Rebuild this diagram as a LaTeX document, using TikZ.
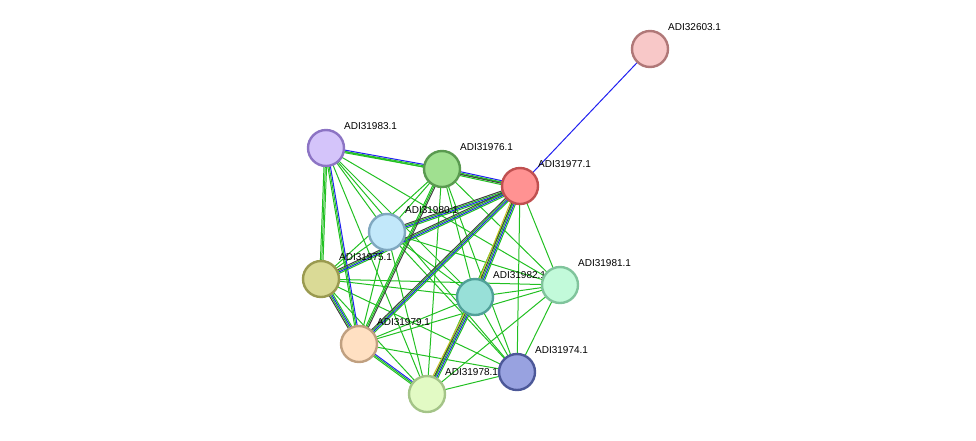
\documentclass[tikz,border=0pt]{standalone}
\usepackage{fontspec}
\setmainfont{Liberation Sans}
\usetikzlibrary{calc}
\definecolor{eg}{HTML}{22C022}
\definecolor{eb}{HTML}{2020F0}
\definecolor{ek}{HTML}{404040}
\definecolor{ey}{HTML}{C0C020}
\tikzset{
 prot/.style n args={2}{circle,minimum size=36pt,inner sep=0pt,line width=2.4pt,fill=#1,draw=#2},
 lab/.style={anchor=west,font=\fontsize{10}{11}\selectfont,inner sep=0pt},
 ed/.style={line width=1pt}
}
\newcommand{\pedge}[4]{% a b offset color
 \draw[ed,#4] ($(#1.center)!#3!90:(#2.center)$) -- ($(#2.center)!#3!-90:(#1.center)$);}
\begin{document}
\begin{tikzpicture}[x=1pt,y=-1pt]
\useasboundingbox (0,0) rectangle (976,440);
\coordinate (p32603) at (650,49);
\coordinate (p31983) at (326,148);
\coordinate (p31976) at (442,169);
\coordinate (p31977) at (520,186);
\coordinate (p31980) at (387,232);
\coordinate (p31975) at (321,279);
\coordinate (p31982) at (475,297);
\coordinate (p31981) at (560,285);
\coordinate (p31979) at (359,344);
\coordinate (p31974) at (517,372);
\coordinate (p31978) at (427,394);
\foreach \n in {32603,31983,31976,31977,31980,31975,31982,31981,31979,31974,31978}
  \node[circle,minimum size=36pt,inner sep=0pt] (n\n) at (p\n) {};
\foreach \a/\b in {31983/31976,31983/31977,31983/31980,31983/31975,31983/31982,31983/31981,31983/31979,31983/31974,31983/31978,
 31976/31977,31976/31980,31976/31975,31976/31982,31976/31981,31976/31979,31976/31974,31976/31978,
 31977/31980,31977/31975,31977/31982,31977/31981,31977/31979,31977/31974,31977/31978,
 31980/31975,31980/31982,31980/31981,31980/31979,31980/31974,31980/31978,
 31975/31982,31975/31981,31975/31979,31975/31974,31975/31978,
 31982/31981,31982/31979,31982/31974,31982/31978,
 31981/31979,31981/31974,31981/31978,
 31979/31974,31979/31978,31974/31978}
 \draw[ed,eg] (n\a.center) -- (n\b.center);
\pedge{n31983}{n31976}{1.3pt}{eb}\pedge{n31983}{n31976}{-1.3pt}{eg}
\pedge{n31976}{n31977}{1.3pt}{eb}\pedge{n31976}{n31977}{-1.3pt}{ek}\pedge{n31976}{n31977}{-2.6pt}{eg}
\pedge{n31983}{n31975}{1.3pt}{eg}\pedge{n31983}{n31975}{-1.3pt}{eg}
\pedge{n31983}{n31979}{1.3pt}{eb}\pedge{n31983}{n31979}{-1.3pt}{eg}
\pedge{n31977}{n31980}{1.3pt}{eb}\pedge{n31977}{n31980}{-1.3pt}{ek}\pedge{n31977}{n31980}{2.6pt}{eg}
\pedge{n31977}{n31975}{1.3pt}{eb}\pedge{n31977}{n31975}{-1.3pt}{ek}\pedge{n31977}{n31975}{2.6pt}{eg}
\pedge{n31977}{n31979}{1.3pt}{eb}\pedge{n31977}{n31979}{-1.3pt}{ek}\pedge{n31977}{n31979}{2.6pt}{eg}
\pedge{n31977}{n31982}{1.3pt}{eb}\pedge{n31977}{n31982}{-1.3pt}{ek}\pedge{n31977}{n31982}{2.6pt}{eg}\pedge{n31977}{n31982}{-2.6pt}{ey}
\pedge{n31976}{n31979}{1.3pt}{ek}\pedge{n31976}{n31979}{-1.3pt}{eg}
\pedge{n31975}{n31979}{1.3pt}{eb}\pedge{n31975}{n31979}{-1.3pt}{ek}\pedge{n31975}{n31979}{2.6pt}{eg}
\pedge{n31979}{n31978}{1.3pt}{eb}\pedge{n31979}{n31978}{-1.3pt}{eg}
\pedge{n31982}{n31978}{1.3pt}{eb}\pedge{n31982}{n31978}{-1.3pt}{ek}\pedge{n31982}{n31978}{2.6pt}{eg}\pedge{n31982}{n31978}{-2.6pt}{ey}
\draw[ed,eb] (n32603.center) -- (n31977.center);
\foreach \n/\f/\d in {32603/F8C8C8/B07878,31983/D4C4FA/8C74C4,31976/A0E090/5A9A50,31977/FF9292/C05050,
 31980/C2E8FA/80A8C0,31975/DADA96/9A9A50,31982/98E0D8/50A098,31981/C2FADA/80C49C,
 31979/FFE0C2/C0A080}{
 \definecolor{fc}{HTML}{\f}\definecolor{dc}{HTML}{\d}
 \node[prot={fc}{dc}] at (p\n) {};
 \node[lab] at ($(p\n)+(18,-22)$) {ADI\n.1};}
\definecolor{fc}{HTML}{E2FAC4}\definecolor{dc}{HTML}{A4C488}
\node[prot={fc}{dc}] at (p31978) {};
\node[lab] at ($(p31978)+(18,-22)$) {ADI31978.1};
\definecolor{fc}{HTML}{98A2E0}\definecolor{dc}{HTML}{4C5898}
\node[prot={fc}{dc}] at (p31974) {};
\node[lab] at ($(p31974)+(18,-22)$) {ADI31974.1};
\end{tikzpicture}
\end{document}
